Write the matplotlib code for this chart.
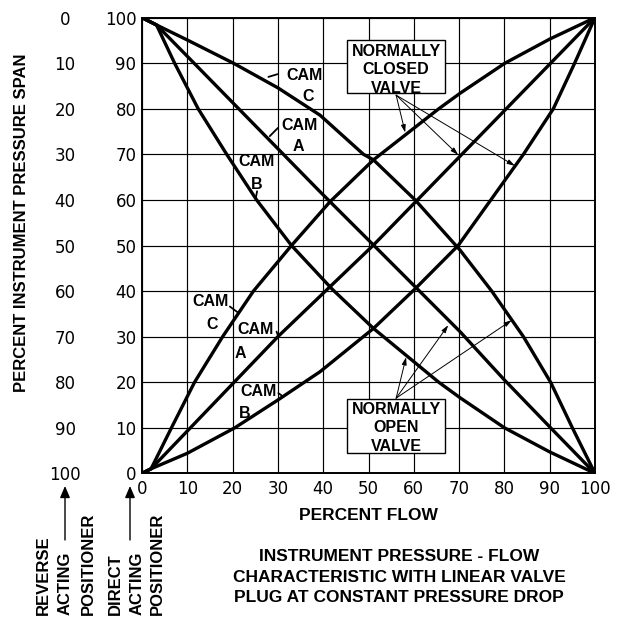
import matplotlib
matplotlib.use("Agg")
import matplotlib.pyplot as plt
from matplotlib import transforms
from matplotlib.patches import Rectangle, FancyArrowPatch

# direct acting positioner curves (normally closed valve), x = percent flow
cam_c_up_x = [0, 2, 6.5, 11.6, 17.8, 24.6, 33, 41.5, 51.1, 65.5, 70.2, 80.1, 90, 100]
cam_c_up_y = [0, 1, 10, 20, 30, 40, 50, 59.6, 68.8, 80, 83.4, 90, 95.3, 100]
cam_a_up_x = [0, 2, 30, 51, 100]
cam_a_up_y = [0, 1, 30, 50, 100]
cam_b_up_x = [0, 2, 10, 20.5, 30, 39.3, 51.1, 60.3, 69.8, 77.0, 84.2, 90.8, 95.5, 100]
cam_b_up_y = [0, 1, 4.4, 10, 16.1, 22.3, 31.8, 40.5, 50, 60, 70, 80, 90, 100]

# reverse acting positioner curves (normally open valve)
cam_c_dn_x = [0, 3.2, 10, 20.2, 30, 39.3, 48.9, 51.1, 60.3, 70.2, 77.2, 84.2, 90.2, 95, 100]
cam_c_dn_y = [100, 98.4, 95.1, 90, 84.6, 78.6, 70, 68.8, 60, 49, 40, 30, 20, 10, 0]
cam_a_dn_x = [0, 3.2, 11.5, 39.3, 51.1, 70.2, 80, 90, 100]
cam_a_dn_y = [100, 98.4, 90, 61.8, 50.1, 31.1, 20.5, 10.2, 0]
cam_b_dn_x = [0, 3.2, 7.2, 12.4, 18.7, 25.3, 33, 42, 51.1, 65.5, 70.2, 80, 90, 100]
cam_b_dn_y = [100, 98.4, 90, 80, 70, 60, 50, 40.4, 31.8, 20, 16.6, 10, 4.7, 0]

ticks = list(range(0, 101, 10))
inner_labels = [str(t) for t in ticks]
outer_labels = [str(100 - t) for t in ticks]

BOLD = dict(family="Liberation Sans", fontweight="bold", color="black")

fig = plt.figure(figsize=(6.24, 6.18), dpi=100)
ax = fig.add_axes([0.2276, 0.2341, 0.7259, 0.7373])
ax.set_xlim(0, 100)
ax.set_ylim(0, 100)
ax.set_xticks(ticks)
ax.set_yticks(ticks)
ax.set_xticklabels(inner_labels, family="DejaVu Sans", fontsize=12)
ax.set_yticklabels(inner_labels, family="DejaVu Sans", fontsize=12)
ax.tick_params(length=0)
ax.tick_params(axis="x", pad=5)
ax.tick_params(axis="y", pad=4)
ax.grid(True, color="black", lw=0.85)
ax.set_axisbelow(True)
for s in ax.spines.values():
    s.set_linewidth(1.4)

# outer (reverse acting) scale
trans = transforms.blended_transform_factory(fig.transFigure, ax.transData)
for t, lab in zip(ticks, outer_labels):
    ax.text(65 / 624, t, lab, transform=trans, ha="center", va="center_baseline",
            family="DejaVu Sans", fontsize=12, clip_on=False)

curves = [(cam_c_up_x, cam_c_up_y), (cam_a_up_x, cam_a_up_y), (cam_b_up_x, cam_b_up_y),
          (cam_c_dn_x, cam_c_dn_y), (cam_a_dn_x, cam_a_dn_y), (cam_b_dn_x, cam_b_dn_y)]
for cx, cy in curves:
    ax.plot(cx, cy, color="black", lw=2.4, solid_joinstyle="round", solid_capstyle="round", zorder=3)

# CAM labels: (text pos, letter, letter pos, leader start, leader end)
lead = dict(arrowstyle="-", lw=1.3, color="black", shrinkA=0, shrinkB=0)
cam_labels = [
    ((35.9, 87.4), "C", (36.7, 82.7), (29.9, 87.6), (27.9, 87.0)),
    ((34.7, 76.4), "A", (34.5, 71.7), (30.0, 75.8), (28.2, 74.0)),
    ((25.3, 68.4), "B", (25.3, 63.3), (25.4, 61.9), (25.1, 60.3)),
    ((15.2, 37.7), "C", (15.4, 32.6), (19.4, 36.6), (21.3, 35.2)),
    ((25.1, 31.5), "A", (21.6, 26.3), (29.7, 31.1), (30.1, 30.0)),
    ((25.8, 17.9), "B", (22.7, 13.2), (30.1, 17.6), (31.2, 16.8)),
]
for cam_pos, letter, letter_pos, l0, l1 in cam_labels:
    ax.text(*cam_pos, "CAM", ha="center", va="center", fontsize=11.5, zorder=4, **BOLD)
    ax.text(*letter_pos, letter, ha="center", va="center", fontsize=11.5, zorder=4, **BOLD)
    ax.annotate("", xy=l1, xytext=l0, arrowprops=lead, zorder=4)

# valve boxes with pointer arrows
arrow = dict(arrowstyle="-|>,head_length=0.45,head_width=0.14", lw=0.7, color="black",
             shrinkA=0, shrinkB=0)
boxes = [
    ("NORMALLY\nCLOSED\nVALVE", (45.2, 83.4), (56.1, 88.6), (56.1, 83.0),
     [(58.1, 74.8), (69.8, 69.9), (82.3, 67.5)]),
    ("NORMALLY\nOPEN\nVALVE", (45.2, 4.5), (56.1, 10.0), (56.1, 16.5),
     [(58.3, 25.5), (67.6, 32.5), (81.6, 33.6)]),
]
for txt, corner, center, origin, targets in boxes:
    ax.add_patch(Rectangle(corner, 21.7, 11.8, facecolor="white", edgecolor="black",
                           lw=1.0, zorder=5))
    ax.text(*center, txt, ha="center", va="center", fontsize=11.5, linespacing=1.3,
            zorder=6, **BOLD)
    for tgt in targets:
        ax.annotate("", xy=tgt, xytext=origin, arrowprops=arrow, zorder=6)

ax.set_xlabel("PERCENT FLOW", fontsize=12.5, labelpad=7, **BOLD)
fig.text(22 / 624, 1 - 223 / 618, "PERCENT INSTRUMENT PRESSURE SPAN", rotation=90,
         ha="center", va="center", fontsize=12, **BOLD)

fig.text(399 / 624, 1 - 577 / 618,
         "INSTRUMENT PRESSURE - FLOW\nCHARACTERISTIC WITH LINEAR VALVE\nPLUG AT CONSTANT PRESSURE DROP",
         ha="center", va="center", fontsize=12.5, linespacing=1.45, **BOLD)

# positioner legends at bottom left
for xpix, word in [(43, "REVERSE"), (65, "ACTING"), (88, "POSITIONER"),
                   (115, "DIRECT"), (137, "ACTING"), (157, "POSITIONER")]:
    fig.text(xpix / 624, 3 / 618, word, rotation=90, ha="center", va="bottom",
             fontsize=12, **BOLD)
for xpix in [65, 130]:
    fig.add_artist(FancyArrowPatch(
        (xpix / 624, 1 - 540 / 618), (xpix / 624, 1 - 486 / 618),
        transform=fig.transFigure, arrowstyle="-|>,head_length=7,head_width=3",
        lw=1.0, color="black", shrinkA=0, shrinkB=0))

fig.savefig("out.png", dpi=100)
